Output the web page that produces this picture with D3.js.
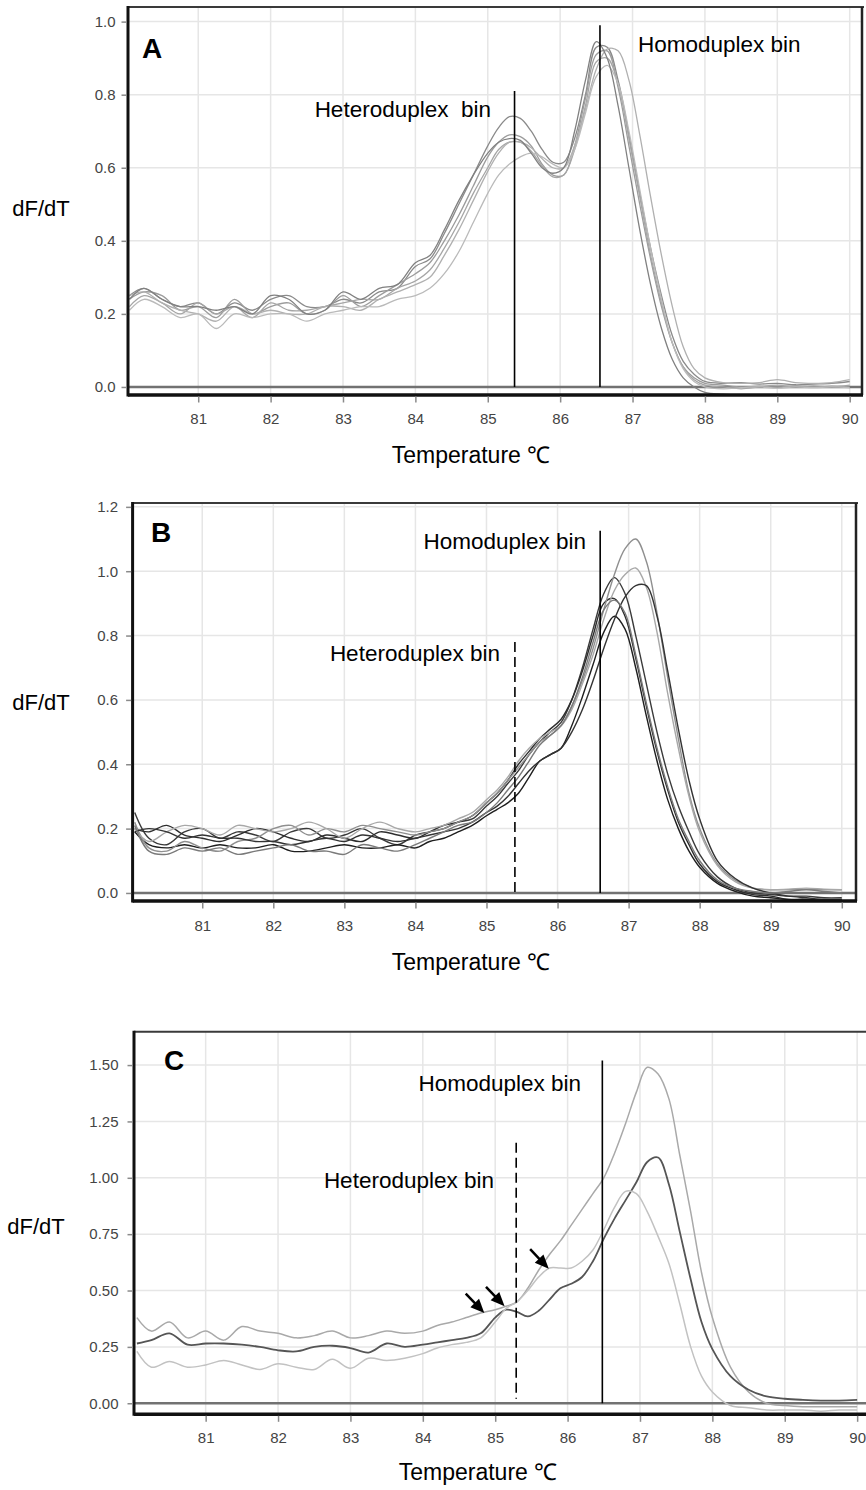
<!DOCTYPE html>
<html>
<head>
<meta charset="utf-8">
<script src="https://cdn.jsdelivr.net/npm/d3@7"></script>
<style>
    body { margin: 0; background: #ffffff; }
    svg text { font-family: "Liberation Sans", Arial, Helvetica, sans-serif; }
</style>
</head>
<body>
<svg id="fig" width="866" height="1490"></svg>
<script>
// Temperature grid (deg C) shared by every melt curve
const temps = [80.05, 80.25, 80.5, 80.75, 81.0, 81.25, 81.5, 81.75, 82.0, 82.25, 82.5, 82.75, 83.0, 83.25, 83.5, 83.75, 84.0,
    84.2, 84.4, 84.6, 84.8, 85.0,
    85.15, 85.3, 85.45, 85.6, 85.75, 85.9, 86.05, 86.2, 86.35, 86.5, 86.65, 86.8, 86.95, 87.1, 87.25, 87.4, 87.55, 87.7, 87.85, 88.0,
    88.25, 88.5, 88.75, 89.0, 89.25, 89.5, 89.75, 90.0];

const xTickValues = [81, 82, 83, 84, 85, 86, 87, 88, 89, 90];

// Panel A: dF/dT curves
const curveA1 = [0.25, 0.27, 0.24, 0.22, 0.23, 0.20, 0.23, 0.21, 0.24, 0.25, 0.22, 0.22, 0.24, 0.23, 0.26, 0.27, 0.33,
    0.35, 0.42, 0.50, 0.58, 0.66,
    0.71, 0.74, 0.735, 0.70, 0.65, 0.615, 0.615, 0.68, 0.80, 0.93, 0.93, 0.84, 0.69, 0.53, 0.38, 0.25, 0.14, 0.07, 0.035, 0.015,
    0.01, 0.012, 0.008, 0.01, 0.006, 0.008, 0.01, 0.015];
const curveA2 = [0.24, 0.26, 0.25, 0.21, 0.22, 0.19, 0.24, 0.20, 0.22, 0.23, 0.20, 0.21, 0.25, 0.22, 0.25, 0.28, 0.31,
    0.34, 0.40, 0.47, 0.55, 0.63,
    0.67, 0.69, 0.685, 0.66, 0.61, 0.58, 0.58, 0.66, 0.79, 0.91, 0.92, 0.82, 0.66, 0.50, 0.35, 0.22, 0.12, 0.055, 0.025, 0.01,
    0.005, 0.0, 0.002, 0.0, 0.003, 0.0, 0.002, 0.0];
const curveA3 = [0.22, 0.25, 0.23, 0.20, 0.23, 0.20, 0.22, 0.19, 0.23, 0.21, 0.21, 0.22, 0.23, 0.24, 0.24, 0.27, 0.29,
    0.32, 0.38, 0.45, 0.53, 0.60,
    0.65, 0.67, 0.67, 0.645, 0.605, 0.575, 0.58, 0.65, 0.77, 0.89, 0.90, 0.83, 0.68, 0.52, 0.36, 0.23, 0.12, 0.055, 0.02, 0.005,
    0.0, -0.005, 0.0, 0.005, 0.0, 0.003, 0.0, 0.005];
const curveA4 = [0.25, 0.26, 0.23, 0.21, 0.20, 0.18, 0.22, 0.20, 0.21, 0.20, 0.20, 0.22, 0.22, 0.21, 0.24, 0.26, 0.28,
    0.30, 0.36, 0.43, 0.51, 0.59,
    0.64, 0.67, 0.67, 0.655, 0.625, 0.60, 0.60, 0.66, 0.76, 0.87, 0.925, 0.92, 0.84, 0.69, 0.52, 0.36, 0.22, 0.11, 0.05, 0.025,
    0.012, 0.01, 0.012, 0.02, 0.012, 0.01, 0.012, 0.02];
const curveA5 = [0.21, 0.24, 0.22, 0.19, 0.20, 0.16, 0.20, 0.19, 0.20, 0.20, 0.18, 0.20, 0.21, 0.22, 0.22, 0.24, 0.25,
    0.27, 0.31, 0.37, 0.45, 0.53,
    0.58, 0.61, 0.63, 0.64, 0.63, 0.61, 0.60, 0.65, 0.75, 0.85, 0.88, 0.83, 0.70, 0.54, 0.38, 0.24, 0.12, 0.05, 0.015, 0.0,
    -0.005, -0.002, 0.0, -0.003, 0.0, -0.002, 0.0, -0.002];
const curveA6 = [0.24, 0.27, 0.24, 0.22, 0.22, 0.21, 0.22, 0.20, 0.25, 0.24, 0.20, 0.21, 0.26, 0.24, 0.27, 0.28, 0.34,
    0.36, 0.43, 0.51, 0.58, 0.64,
    0.67, 0.68, 0.675, 0.64, 0.60, 0.585, 0.60, 0.70, 0.84, 0.945, 0.90, 0.77, 0.60, 0.43, 0.28, 0.16, 0.075, 0.025, 0.0, -0.015,
    -0.02, -0.022];

// Panel B: dF/dT curves
const curveB1 = [0.25, 0.17, 0.15, 0.19, 0.20, 0.17, 0.19, 0.18, 0.16, 0.19, 0.20, 0.17, 0.18, 0.20, 0.17, 0.15, 0.18,
    0.19, 0.20, 0.22, 0.23, 0.27,
    0.30, 0.34, 0.38, 0.43, 0.47, 0.50, 0.53, 0.60, 0.70, 0.82, 0.93, 0.98, 0.93, 0.80, 0.65, 0.50, 0.37, 0.27, 0.19, 0.12,
    0.05, 0.015, 0.0, -0.005, -0.01, -0.01, -0.015, -0.015];
const curveB2 = [0.20, 0.19, 0.21, 0.18, 0.17, 0.16, 0.18, 0.20, 0.19, 0.17, 0.16, 0.18, 0.17, 0.16, 0.19, 0.18, 0.17,
    0.19, 0.21, 0.22, 0.24, 0.28,
    0.31, 0.35, 0.40, 0.44, 0.48, 0.51, 0.54, 0.60, 0.69, 0.80, 0.90, 0.915, 0.86, 0.73, 0.58, 0.44, 0.32, 0.22, 0.15, 0.09,
    0.035, 0.01, -0.005, -0.01, -0.02, -0.02, -0.02, -0.02];
const curveB3 = [0.19, 0.15, 0.14, 0.15, 0.14, 0.15, 0.14, 0.14, 0.15, 0.13, 0.13, 0.14, 0.15, 0.14, 0.14, 0.15, 0.14,
    0.16, 0.17, 0.19, 0.21, 0.24,
    0.26, 0.28, 0.31, 0.36, 0.41, 0.43, 0.45, 0.52, 0.61, 0.71, 0.81, 0.86, 0.82, 0.70, 0.55, 0.41, 0.29, 0.20, 0.13, 0.08,
    0.03, 0.005, -0.01, -0.015, -0.02, -0.02, -0.025, -0.025];
const curveB4 = [0.22, 0.14, 0.13, 0.16, 0.14, 0.13, 0.16, 0.17, 0.20, 0.21, 0.18, 0.20, 0.19, 0.21, 0.20, 0.19, 0.18,
    0.19, 0.20, 0.22, 0.24, 0.28,
    0.31, 0.35, 0.39, 0.43, 0.47, 0.49, 0.52, 0.58, 0.66, 0.76, 0.88, 0.99, 1.07, 1.10, 1.03, 0.87, 0.67, 0.48, 0.31, 0.20,
    0.09, 0.04, 0.015, 0.01, 0.01, 0.012, 0.01, 0.01];
const curveB5 = [0.20, 0.16, 0.19, 0.21, 0.20, 0.18, 0.21, 0.20, 0.19, 0.20, 0.22, 0.20, 0.17, 0.20, 0.22, 0.20, 0.19,
    0.20, 0.21, 0.23, 0.25, 0.29,
    0.32, 0.36, 0.41, 0.45, 0.48, 0.50, 0.52, 0.57, 0.65, 0.74, 0.85, 0.94, 0.99, 1.01, 0.95, 0.81, 0.62, 0.45, 0.30, 0.19,
    0.085, 0.035, 0.015, 0.01, 0.012, 0.015, 0.012, 0.01];
const curveB6 = [0.19, 0.20, 0.19, 0.17, 0.18, 0.17, 0.17, 0.16, 0.16, 0.15, 0.16, 0.17, 0.16, 0.18, 0.17, 0.16, 0.17,
    0.18, 0.19, 0.20, 0.22, 0.25,
    0.27, 0.30, 0.34, 0.38, 0.41, 0.43, 0.45, 0.50, 0.57, 0.66, 0.76, 0.85, 0.92, 0.955, 0.955, 0.86, 0.69, 0.51, 0.35, 0.23,
    0.10, 0.045, 0.015, 0.0, -0.01, -0.015, -0.02, -0.02];
const curveB7 = [0.21, 0.13, 0.12, 0.14, 0.13, 0.14, 0.12, 0.13, 0.14, 0.15, 0.13, 0.13, 0.12, 0.15, 0.14, 0.13, 0.15,
    0.17, 0.19, 0.21, 0.22, 0.25,
    0.28, 0.32, 0.36, 0.41, 0.46, 0.49, 0.52, 0.58, 0.67, 0.78, 0.88, 0.91, 0.87, 0.74, 0.59, 0.45, 0.33, 0.23, 0.16, 0.10,
    0.04, 0.015, 0.005, 0.0, 0.005, 0.01, 0.005, 0.0];

// Panel C: dF/dT curves
const curveC1 = [0.38, 0.32, 0.36, 0.29, 0.32, 0.28, 0.34, 0.32, 0.31, 0.29, 0.30, 0.32, 0.29, 0.30, 0.32, 0.31, 0.32,
    0.345, 0.36, 0.38, 0.40, 0.415,
    0.43, 0.45, 0.51, 0.59, 0.66, 0.72, 0.79, 0.86, 0.93, 1.00, 1.11, 1.24, 1.38, 1.49, 1.46, 1.35, 1.10, 0.85, 0.58, 0.38,
    0.16, 0.05, 0.0, -0.01, -0.015, -0.015, -0.015, -0.015];
const curveC2 = [0.265, 0.28, 0.31, 0.26, 0.265, 0.265, 0.26, 0.25, 0.235, 0.23, 0.25, 0.255, 0.245, 0.225, 0.265, 0.25, 0.26,
    0.27, 0.28, 0.29, 0.31, 0.38,
    0.415, 0.405, 0.385, 0.41, 0.46, 0.51, 0.53, 0.56, 0.63, 0.73, 0.82, 0.90, 0.98, 1.07, 1.09, 0.97, 0.76, 0.55, 0.36, 0.24,
    0.12, 0.06, 0.03, 0.02, 0.015, 0.012, 0.012, 0.015];
const curveC3 = [0.23, 0.16, 0.185, 0.16, 0.17, 0.19, 0.17, 0.15, 0.175, 0.16, 0.15, 0.195, 0.155, 0.20, 0.19, 0.20, 0.22,
    0.245, 0.26, 0.27, 0.29, 0.36,
    0.42, 0.45, 0.50, 0.56, 0.60, 0.60, 0.60, 0.63, 0.68, 0.77, 0.87, 0.94, 0.93, 0.85, 0.74, 0.62, 0.44, 0.25, 0.12, 0.05,
    -0.01, -0.02, -0.03, -0.03, -0.03, -0.035, -0.03, -0.03];

// y ticks per panel
const yTicksA = [0.0, 0.2, 0.4, 0.6, 0.8, 1.0];
const yTicksB = [0.0, 0.2, 0.4, 0.6, 0.8, 1.0, 1.2];
const yTicksC = [0.0, 0.25, 0.5, 0.75, 1.0, 1.25, 1.5];

// bin markers: [temperature, top value]
const heteroBinA = [85.37, 0.81];
const homoBinA = [86.55, 0.99];
const heteroBinB = [85.4, 0.78];
const homoBinB = [86.6, 1.126];
const heteroBinC = [85.29, 1.155];
const homoBinC = [86.48, 1.52];

// arrow tips in panel C: [temperature, dF/dT]
const arrowTipsC = [[84.85, 0.40], [85.13, 0.43], [85.74, 0.597]];


function drawPanel(svg, p) {
    let x = d3.scaleLinear().domain(p.xDomain).range([p.left, p.right]);
    let y = d3.scaleLinear().domain(p.yDomain).range([p.bottom, p.top]);
    let g = svg.append("g");

    // Grid lines
    g.selectAll(".vgrid")
        .data(xTickValues)
        .enter()
        .append("line")
        .attr("x1", function(d) { return x(d); })
        .attr("x2", function(d) { return x(d); })
        .attr("y1", p.top)
        .attr("y2", p.bottom)
        .attr("stroke", "#e6e6e6")
        .attr("stroke-width", 1.5);
    g.selectAll(".hgrid")
        .data(p.yTicks)
        .enter()
        .append("line")
        .attr("x1", p.left)
        .attr("x2", p.right)
        .attr("y1", function(d) { return y(d); })
        .attr("y2", function(d) { return y(d); })
        .attr("stroke", "#e6e6e6")
        .attr("stroke-width", 1.5);

    // Clip the curves to the plot frame
    let clipId = "clip" + p.name;
    svg.append("clipPath")
        .attr("id", clipId)
        .append("rect")
        .attr("x", p.left)
        .attr("y", p.top)
        .attr("width", p.right - p.left)
        .attr("height", p.bottom - p.top);

    // Zero line
    g.append("line")
        .attr("x1", p.left)
        .attr("x2", p.right)
        .attr("y1", y(0))
        .attr("y2", y(0))
        .attr("stroke", "#727272")
        .attr("stroke-width", 2.5);

    // Melt curves
    let line = d3.line()
        .x(function(d, i) { return x(temps[i]); })
        .y(function(d) { return y(d); })
        .curve(d3.curveCatmullRom.alpha(0.5));

    g.append("g")
        .attr("clip-path", "url(#" + clipId + ")")
        .selectAll("path")
        .data(p.series)
        .enter()
        .append("path")
        .attr("d", function(d) { return line(d); })
        .attr("fill", "none")
        .attr("stroke", function(d, i) { return p.colors[i]; })
        .attr("stroke-width", function(d, i) { return p.widths[i]; })
        .attr("stroke-linejoin", "round");

    // Frame
    g.append("line").attr("x1", p.left).attr("x2", p.right + 2).attr("y1", p.top).attr("y2", p.top)
        .attr("stroke", "#3a3a3a").attr("stroke-width", 2);
    g.append("line").attr("x1", p.right).attr("x2", p.right).attr("y1", p.top).attr("y2", p.bottom)
        .attr("stroke", "#222").attr("stroke-width", 2.5);
    g.append("line").attr("x1", p.left).attr("x2", p.left).attr("y1", p.top - 1).attr("y2", p.bottom + 1.5)
        .attr("stroke", "#111").attr("stroke-width", 3);
    g.append("line").attr("x1", p.left).attr("x2", p.right + 1).attr("y1", p.bottom).attr("y2", p.bottom)
        .attr("stroke", "#111").attr("stroke-width", 3.5);

    // Axes
    let yAxis = g.append("g")
        .attr("transform", "translate(" + (p.left - 1.5) + ",0)")
        .call(d3.axisLeft(y).tickValues(p.yTicks).tickFormat(d3.format(p.yFormat)).tickSize(5).tickPadding(p.yPad));
    let xAxis = g.append("g")
        .attr("transform", "translate(0," + (p.bottom + 1.5) + ")")
        .call(d3.axisBottom(x).tickValues(xTickValues).tickFormat(d3.format("d")).tickSize(6).tickPadding(p.xPad));
    [yAxis, xAxis].forEach(function(ax) {
        ax.select(".domain").remove();
        ax.selectAll(".tick line").attr("stroke", "#8a8a8a").attr("stroke-width", 1.5);
        ax.selectAll(".tick text")
            .attr("fill", "#444444")
            .style("font-size", "15px");
    });

    // Bin lines
    g.append("line")
        .attr("x1", x(p.hetero[0]))
        .attr("x2", x(p.hetero[0]))
        .attr("y1", y(p.hetero[1]))
        .attr("y2", y(p.heteroBottom))
        .attr("stroke", "#000")
        .attr("stroke-width", 1.6)
        .attr("stroke-dasharray", p.dashed ? "10,5" : null);
    g.append("line")
        .attr("x1", x(p.homo[0]))
        .attr("x2", x(p.homo[0]))
        .attr("y1", y(p.homo[1]))
        .attr("y2", y(0))
        .attr("stroke", "#000")
        .attr("stroke-width", 1.6);

    // Bin labels
    g.append("text")
        .attr("x", p.heteroLabel[0])
        .attr("y", p.heteroLabel[1])
        .attr("text-anchor", "end")
        .style("font-size", "22.5px")
        .style("white-space", "pre")
        .text(p.heteroText);
    g.append("text")
        .attr("x", p.homoLabel[0])
        .attr("y", p.homoLabel[1])
        .attr("text-anchor", p.homoAnchor)
        .style("font-size", "22.5px")
        .text("Homoduplex bin");

    // Panel letter
    g.append("text")
        .attr("x", p.letterPos[0])
        .attr("y", p.letterPos[1])
        .attr("text-anchor", "middle")
        .style("font-size", "28px")
        .style("font-weight", "bold")
        .text(p.name);

    // Axis titles
    g.append("text")
        .attr("x", p.yTitlePos[0])
        .attr("y", p.yTitlePos[1])
        .attr("text-anchor", "middle")
        .style("font-size", "22px")
        .text("dF/dT");
    g.append("text")
        .attr("x", p.xTitlePos[0])
        .attr("y", p.xTitlePos[1])
        .attr("text-anchor", "middle")
        .style("font-size", "23px")
        .text("Temperature \u2103");

    return {x: x, y: y, g: g};
}

function drawArrows(panel, tips) {
    // Short black arrows pointing down-right at the curve shoulders
    let g = panel.g;
    tips.forEach(function(t) {
        let tx = panel.x(t[0]), ty = panel.y(t[1]);
        let ux = 0.69, uy = 0.72;
        let len = 27, head = 14, half = 6;
        let bx = tx - ux * head, by = ty - uy * head;
        g.append("line")
            .attr("x1", tx - ux * len)
            .attr("y1", ty - uy * len)
            .attr("x2", bx + ux * 2)
            .attr("y2", by + uy * 2)
            .attr("stroke", "#000")
            .attr("stroke-width", 2.5);
        g.append("path")
            .attr("d", "M" + tx + "," + ty +
                "L" + (bx - uy * half) + "," + (by + ux * half) +
                "L" + (bx + uy * half) + "," + (by - ux * half) + "Z")
            .attr("fill", "#000");
    });
}

let svg = d3.select("#fig");

drawPanel(svg, {
    name: "A",
    xDomain: [80.03, 90.17], yDomain: [-0.022, 1.04],
    left: 128, right: 862, top: 7, bottom: 395,
    yTicks: yTicksA, yFormat: ".1f", yPad: 6, xPad: 11,
    series: [curveA1, curveA2, curveA3, curveA4, curveA5, curveA6],
    colors: ["#8a8a8a", "#9c9c9c", "#a6a6a6", "#b0b0b0", "#bababa", "#808080"],
    widths: [1.3, 1.3, 1.3, 1.3, 1.3, 1.3],
    hetero: heteroBinA, heteroBottom: 0, homo: homoBinA, dashed: false,
    heteroText: "Heteroduplex  bin", heteroLabel: [491, 117],
    homoLabel: [638, 52], homoAnchor: "start",
    letterPos: [152, 58],
    yTitlePos: [41, 216], xTitlePos: [471, 463]
});

drawPanel(svg, {
    name: "B",
    xDomain: [80.02, 90.2], yDomain: [-0.025, 1.212],
    left: 132.6, right: 856, top: 503, bottom: 901,
    yTicks: yTicksB, yFormat: ".1f", yPad: 8, xPad: 12,
    series: [curveB1, curveB2, curveB3, curveB4, curveB5, curveB6, curveB7],
    colors: ["#3a3a3a", "#2e2e2e", "#1e1e1e", "#8f8f8f", "#a8a8a8", "#333333", "#7a7a7a"],
    widths: [1.4, 1.4, 1.4, 1.4, 1.4, 1.4, 1.4],
    hetero: heteroBinB, heteroBottom: 0, homo: homoBinB, dashed: true,
    heteroText: "Heteroduplex bin", heteroLabel: [500, 661],
    homoLabel: [586, 549], homoAnchor: "end",
    letterPos: [161, 542],
    yTitlePos: [41, 710], xTitlePos: [471, 970]
});

let panelC = drawPanel(svg, {
    name: "C",
    xDomain: [80.01, 90.15], yDomain: [-0.049, 1.648],
    left: 134, right: 868, top: 1031.7, bottom: 1414.3,
    yTicks: yTicksC, yFormat: ".2f", yPad: 9, xPad: 11,
    series: [curveC1, curveC2, curveC3],
    colors: ["#a9a9a9", "#555555", "#c2c2c2"],
    widths: [1.5, 1.8, 1.5],
    hetero: heteroBinC, heteroBottom: 0.02, homo: homoBinC, dashed: true,
    heteroText: "Heteroduplex bin", heteroLabel: [494, 1188],
    homoLabel: [581, 1091], homoAnchor: "end",
    letterPos: [174, 1070],
    yTitlePos: [36, 1234], xTitlePos: [478, 1480]
});

drawArrows(panelC, arrowTipsC);
</script>
</body>
</html>
